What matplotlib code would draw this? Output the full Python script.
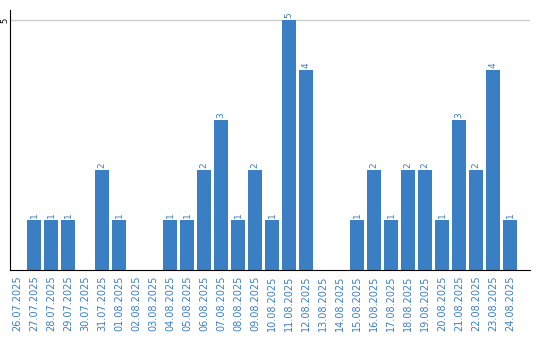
import matplotlib
matplotlib.use("Agg")
import matplotlib.pyplot as plt
import numpy as np

dates = ["26.07.2025", "27.07.2025", "28.07.2025", "29.07.2025", "30.07.2025",
         "31.07.2025", "01.08.2025", "02.08.2025", "03.08.2025", "04.08.2025",
         "05.08.2025", "06.08.2025", "07.08.2025", "08.08.2025", "09.08.2025",
         "10.08.2025", "11.08.2025", "12.08.2025", "13.08.2025", "14.08.2025",
         "15.08.2025", "16.08.2025", "17.08.2025", "18.08.2025", "19.08.2025",
         "20.08.2025", "21.08.2025", "22.08.2025", "23.08.2025", "24.08.2025"]
counts = [0, 1, 1, 1, 0, 2, 1, 0, 0, 1, 1, 2, 3, 1, 2, 1, 5, 4, 0, 0,
          1, 2, 1, 2, 2, 1, 3, 2, 4, 1]

bar_color = "#3a7fc4"

fig = plt.figure(figsize=(5.4, 3.4), dpi=100)
ax = fig.add_axes([10 / 540, 70 / 340, 520 / 540, 260 / 340])

x = np.arange(len(dates))
ax.bar(x, counts, width=14 / 17, color=bar_color, zorder=2)

# value labels above bars
for xi, c in zip(x, counts):
    if c > 0:
        ax.text(xi, c + 0.04, str(c), rotation=90, ha="center", va="bottom",
                fontsize=6.5, color=bar_color)

# 17px per slot, axis 520px wide, extra room on the right
left = -7 / 17
ax.set_xlim(left, left + 520 / 17)
ax.set_ylim(0, 5.2)
ax.set_xticks(x)
ax.set_xticklabels(dates, rotation=90, fontsize=7, color=bar_color)
ax.set_yticks([5])
ax.set_yticklabels(["5"], rotation=90, fontsize=6, va="center", ha="center")
ax.tick_params(axis="x", length=0, pad=4)
ax.tick_params(axis="y", length=0, pad=4)
ax.grid(axis="y", color="#cccccc", linewidth=1, zorder=0)

ax.spines["top"].set_visible(False)
ax.spines["right"].set_visible(False)
ax.spines["left"].set_color("black")
ax.spines["bottom"].set_color("black")

fig.savefig("out.png", dpi=100)
